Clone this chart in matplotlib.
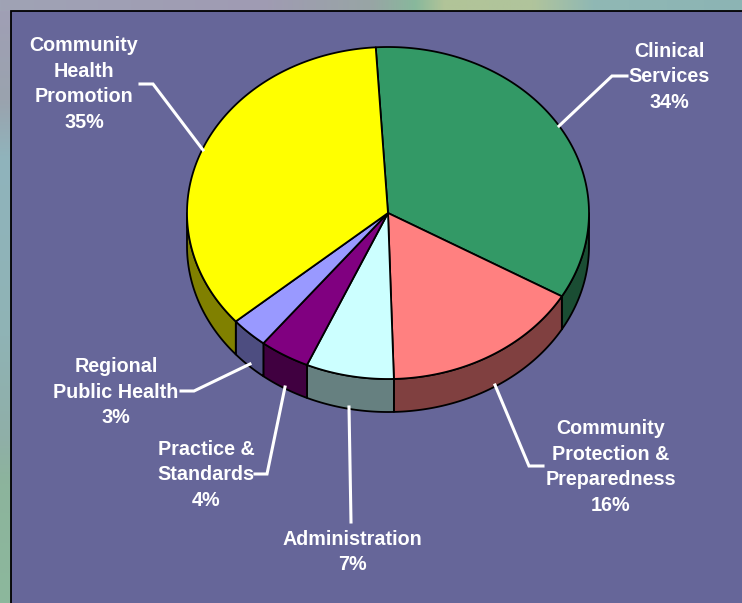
import numpy as np
import matplotlib
matplotlib.use('Agg')
import matplotlib.pyplot as plt
from matplotlib.colors import LinearSegmentedColormap
from matplotlib.patches import Polygon, Rectangle

departments = ['Clinical\nServices', 'Community\nProtection &\nPreparedness', 'Administration',
               'Practice &\nStandards', 'Regional\nPublic Health', 'Community\nHealth\nPromotion']
shares = [34, 16, 7, 4, 3, 35]
top_colors = ['#339966', '#FF8080', '#CCFFFF', '#800080', '#9999FF', '#FFFF00']
side_colors = ['#1A4D33', '#804040', '#668080', '#400040', '#4D4D80', '#808000']

W, H = 742, 603
PANEL = '#666699'
cx, cy, rx, ry = 388, 213, 201, 166
depth = 33
start = -3.5

# label centre, then the leader line from the text to the pie
labels = [
    (669, 77, [(627, 76), (612, 76), (559, 126)]),
    (611, 467, [(543, 466), (529, 466), (495, 385)]),
    (352, 552, [(351, 522), (349, 407)]),
    (206, 475, [(255, 474), (267, 474), (285, 387)]),
    (116, 392, [(181, 391), (194, 391), (250, 364)]),
    (84, 84, [(140, 84), (153, 84), (203, 150)]),
]

plt.rcParams['font.family'] = ['Liberation Sans', 'DejaVu Sans']
fig = plt.figure(figsize=(W / 100, H / 100), dpi=100)
ax = fig.add_axes([0, 0, 1, 1])
ax.set_xlim(0, W)
ax.set_ylim(H, 0)
ax.axis('off')

# backdrop around the panel
top_strip = LinearSegmentedColormap.from_list('strip', [
    (0, '#9FA3B5'), (0.35, '#A09BB3'), (0.5, '#98A5A5'), (0.56, '#88B89C'),
    (0.6, '#B2C498'), (0.72, '#B0C49C'), (0.8, '#90B8B4'), (1, '#8CB4B4')])
ax.imshow(np.linspace(0, 1, 256)[None, :], cmap=top_strip, extent=[0, W, 11, 0], aspect='auto', zorder=0)
left_strip = LinearSegmentedColormap.from_list('left', [
    (0, '#A09FB5'), (0.15, '#9AA3AE'), (0.25, '#90B4BC'), (0.55, '#8FB3B5'),
    (0.72, '#90AFA8'), (0.8, '#8CB49C'), (1, '#8CB89C')])
ax.imshow(np.linspace(0, 1, 256)[:, None], cmap=left_strip, extent=[0, 11, H, 11], aspect='auto', zorder=0)
ax.set_xlim(0, W)
ax.set_ylim(H, 0)
ax.add_patch(Rectangle((11, 11), W, H, facecolor=PANEL, edgecolor='black', linewidth=1.3, zorder=1))


def rim(a, b, n=120):
    t = np.radians(np.linspace(a, b, n))
    return cx + rx * np.sin(t), cy - ry * np.cos(t)


angles = start + np.cumsum([0] + shares) * 360 / sum(shares)

# outer wall, only the part facing the viewer
for a, b, c in zip(angles[:-1], angles[1:], side_colors):
    lo, hi = max(a, 90), min(b, 270)
    if lo >= hi:
        continue
    x, y = rim(lo, hi)
    pts = np.r_[np.c_[x, y], np.c_[x[::-1], y[::-1] + depth]]
    ax.add_patch(Polygon(pts, facecolor=c, edgecolor='black', linewidth=1.3, joinstyle='round', zorder=2))

# top face
for a, b, c in zip(angles[:-1], angles[1:], top_colors):
    x, y = rim(a, b)
    pts = np.r_[[[cx, cy]], np.c_[x, y]]
    ax.add_patch(Polygon(pts, facecolor=c, edgecolor='black', linewidth=1.3, joinstyle='round', zorder=3))

for name, share, (tx, ty, leader) in zip(departments, shares, labels):
    ax.text(tx, ty, f'{name}\n{share}%', color='white', fontsize=14.2, fontweight='bold',
            ha='center', va='center', linespacing=1.43, zorder=5)
    ax.plot(*zip(*leader), color='white', linewidth=2.2, solid_joinstyle='miter', zorder=4)

fig.savefig('out.png', dpi=100)
